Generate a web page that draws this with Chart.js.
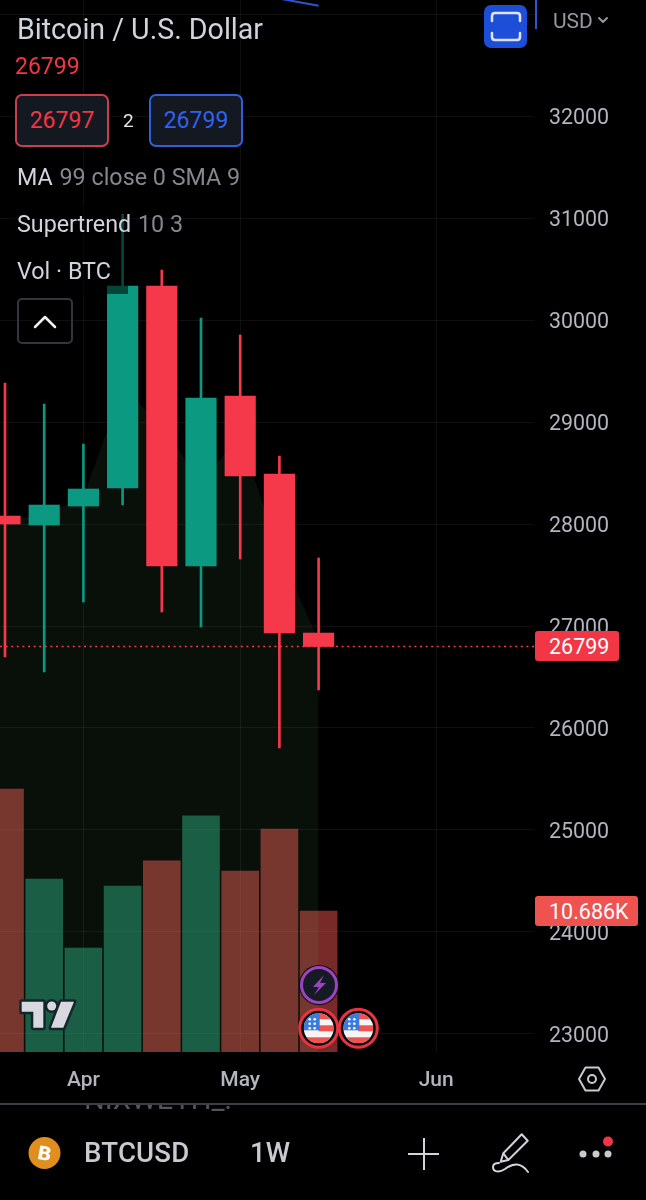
<!DOCTYPE html>
<html>
<head>
<meta charset="utf-8">
<title>BTCUSD</title>
<script src="https://cdn.jsdelivr.net/npm/chart.js@4"></script>
<style>
    html, body { margin: 0; padding: 0; background: #000; }
    body { position: relative; width: 646px; height: 1200px; overflow: hidden; font-family: Roboto, sans-serif; }
    #chart { position: absolute; left: 0; top: 0; }
    #icons { position: absolute; left: 0; top: 0; }
    .t { position: absolute; white-space: nowrap; line-height: 1; transform: translateY(-50%); }
    .box { position: absolute; box-sizing: border-box; background: #141821; border-radius: 7px; width: 94px; height: 53px; top: 94px;
           font-size: 23px; line-height: 49px; text-align: center; border: 2px solid; }
    .badge { position: absolute; left: 535px; box-sizing: border-box; color: #fff; border-radius: 3px; height: 30px;
             font-size: 21.5px; line-height: 31px; padding-left: 14px; }
    .clip { position: absolute; left: 84px; overflow: hidden; width: 200px; color: #54565c; font-size: 29px; line-height: 32px; }
</style>
</head>
<body>
<canvas id="chart" width="646" height="1200"></canvas>

<div style="position:absolute;left:10px;top:205px;width:118px;height:89px;background:rgba(0,0,0,.55)"></div>
<div style="position:absolute;left:535px;top:0;width:2px;height:29px;background:#2b55d5"></div>

<div class="t" style="left:17px;top:29px;font-size:28.6px;color:#d1d4dc">Bitcoin / U.S. Dollar</div>
<div class="t" style="left:15px;top:66px;font-size:23px;color:#f23645">26799</div>
<div class="box" style="left:15px;border-color:#c9404c;color:#f23645">26797</div>
<div class="t" style="left:123px;top:120px;font-size:19px;color:#e6e6e6">2</div>
<div class="box" style="left:149px;border-color:#2f5fdc;color:#2f62f0">26799</div>
<div class="t" style="left:17px;top:178px;font-size:23.3px;color:#d1d4dc">MA <span style="color:#84878f;margin-left:1px">99 close 0 SMA 9</span></div>
<div class="t" style="left:17px;top:225px;font-size:23.3px;color:#d1d4dc">Supertrend <span style="color:#84878f;margin-left:1px">10 3</span></div>
<div class="t" style="left:17px;top:272px;font-size:23.3px;color:#d1d4dc">Vol · BTC</div>
<div style="position:absolute;left:17px;top:298px;width:56px;height:46px;box-sizing:border-box;border:2px solid #33363e;border-radius:5px"></div>

<div style="position:absolute;left:484px;top:5px;width:43px;height:43px;background:#1c4ed8;border-radius:7px"></div>
<div class="t" style="left:553px;top:21px;font-size:21px;color:#9598a1">USD</div>

<div class="badge" style="top:631px;width:84px;background:#f23645">26799</div>
<div class="badge" style="top:896px;width:103px;background:#ef5350">10.686K</div>

<div style="position:absolute;left:0;top:1103px;width:646px;height:2px;background:#3b3e47"></div>
<div class="clip" style="top:1105px;height:9px"><div style="margin-top:-22px">NIXWETH_:</div></div>
<div class="clip" style="top:1193px;height:7px"><div style="margin-top:3px">TOTAL</div></div>
<div class="t" style="left:84px;top:1153px;font-size:27.6px;font-weight:500;color:#c8cad0;letter-spacing:.2px">BTCUSD</div>
<div class="t" style="left:250px;top:1153px;font-size:27.6px;font-weight:500;color:#c8cad0">1W</div>

<svg id="icons" width="646" height="1200" viewBox="0 0 646 1200" fill="none">
    <defs>
        <clipPath id="flagA"><circle cx="318.7" cy="1028.3" r="15"/></clipPath>
        <clipPath id="flagB"><circle cx="358.3" cy="1028.3" r="15"/></clipPath>
        <g id="flag">
            <rect x="-15" y="-15" width="30" height="30" fill="#f5f5f5"/>
            <rect x="-15" y="-15" width="30" height="6" fill="#ee5350"/>
            <rect x="0" y="-3" width="15" height="6" fill="#ee5350"/>
            <rect x="-15" y="9" width="30" height="6" fill="#ee5350"/>
            <rect x="-15" y="-15" width="16" height="17" fill="#3a7be0"/>
            <g fill="#fff">
                <circle cx="-9" cy="-9" r="1.3"/><circle cx="-4" cy="-9" r="1.3"/><circle cx="-9" cy="-4.5" r="1.3"/>
                <circle cx="-4" cy="-4.5" r="1.3"/><circle cx="-9" cy="0" r="1.3"/><circle cx="-4" cy="0" r="1.3"/>
            </g>
        </g>
    </defs>

    <path d="M35 327 L45 317 L55 327" stroke="#f0f0f0" stroke-width="2.5" stroke-linecap="round" stroke-linejoin="round"/>

    <g stroke="#dfe5f7" stroke-width="2.5" stroke-linecap="round">
        <path d="M492 21 V16 Q492 13 495 13 H517 Q520 13 520 16 V21"/>
        <path d="M492 33 V37 Q492 40 495 40 H517 Q520 40 520 37 V33"/>
    </g>
    <path d="M599 18 L603 22 L607 18" stroke="#9598a1" stroke-width="2" stroke-linecap="round" stroke-linejoin="round"/>

    <g stroke="#13272b" stroke-width="5" stroke-linejoin="round" fill="#13272b">
        <path d="M21.7 1001.7 H43.3 V1027.7 H33.3 V1011.7 H21.7 Z"/>
        <path d="M61 1001.7 H74 L63.3 1027.7 H51 Z"/>
        <circle cx="51.7" cy="1006" r="4.5"/>
    </g>
    <g fill="#d8d9e0">
        <path d="M21.7 1001.7 H43.3 V1027.7 H33.3 V1011.7 H21.7 Z"/>
        <path d="M61 1001.7 H74 L63.3 1027.7 H51 Z"/>
        <circle cx="51.7" cy="1006" r="4.5"/>
    </g>

    <circle cx="319" cy="985" r="20" fill="#0b0c10"/>
    <circle cx="319" cy="985" r="17.5" fill="#161a25" stroke="#9c44bd" stroke-width="3"/>
    <path d="M324 975 L313 987 H319 L314 995 L326 983 H320 Z" fill="#9c44bd"/>

    <circle cx="318.7" cy="1028.3" r="19" fill="#0b0c10" stroke="#ea3340" stroke-width="3"/>
    <g clip-path="url(#flagA)"><use href="#flag" x="318.7" y="1028.3"/></g>
    <circle cx="358.3" cy="1028.3" r="19" fill="#0b0c10" stroke="#ea3340" stroke-width="3"/>
    <g clip-path="url(#flagB)"><use href="#flag" x="358.3" y="1028.3"/></g>

    <polygon points="579,1079 585.5,1067.5 598.5,1067.5 605,1079 598.5,1090.5 585.5,1090.5" stroke="#c8cad0" stroke-width="2" stroke-linejoin="round"/>
    <circle cx="592" cy="1079" r="4" stroke="#c8cad0" stroke-width="2"/>

    <circle cx="44.5" cy="1153" r="16" fill="#e08e1e"/>
    <text x="44.5" y="1160" font-family="DejaVu Sans" font-size="19" font-weight="700" fill="#fff" text-anchor="middle" transform="rotate(10 44.5 1153)">B</text>

    <path d="M408 1154 H439 M424 1138 V1170" stroke="#d1d4dc" stroke-width="2"/>
    <path d="M500.7 1161.7 L503.3 1153.3 L521.7 1134.3 L527.7 1140.7 L508.3 1160 Z M503.3 1153.3 L508.3 1160" stroke="#d1d4dc" stroke-width="2" stroke-linejoin="round"/>
    <path d="M528 1172 C521 1162 513 1163 505 1169 C499 1173 493 1172 493 1167 C493 1164 496 1163 499 1163" stroke="#d1d4dc" stroke-width="2" stroke-linecap="round"/>
    <g fill="#c8cad0"><circle cx="583" cy="1154" r="3.5"/><circle cx="596" cy="1154" r="3.5"/><circle cx="608" cy="1154" r="3.5"/></g>
    <circle cx="608" cy="1141.5" r="5" fill="#f23645"/>
</svg>

<script>
// Bougies hebdomadaires
const weeks = [0, 1, 2, 3, 4, 5, 6, 7, 8];
const opens = [28078, 27990, 28176, 28353, 30333, 27588, 29255, 28490, 26931];
const closes = [28000, 28186, 28343, 30333, 27588, 29235, 28471, 26931, 26799];
const highs = [29382, 29176, 28784, 31039, 30490, 30020, 29853, 28667, 27667];
const lows = [26696, 26549, 27235, 28186, 27137, 26990, 27657, 25804, 26373];
const volumes = [19.93, 13.11, 7.88, 12.58, 14.48, 17.89, 13.72, 16.9, 10.686];

// Bande Supertrend
const bandWeeks = [-1, 0, 1, 2, 3, 4, 5, 6, 7, 8];
const bandValues = [28050, 28039, 28088, 28265, 29343, 28961, 28412, 28863, 27716, 26863];

// Moyenne mobile (seul le bout du tracé passe dans le cadre)
const maWeeks = [7, 8];
const maValues = [33151, 33081];

const lastPrice = 26799;
const priceTicks = [23000, 24000, 25000, 26000, 27000, 28000, 29000, 30000, 31000, 32000, 33000];
const monthWeeks = [2, 6, 11];
const monthLabels = ['Apr', 'May', 'Jun'];

const X_MIN = -0.1276;
const X_MAX = 13.495;
const GREEN = '#0b9981';
const RED = '#f6384b';
const GRID = 'rgba(255, 255, 255, 0.06)';
const TICK_COLOR = '#b2b5be';

function candleColors() {
    return weeks.map((w, i) => closes[i] >= opens[i] ? GREEN : RED);
}

function volumeColors() {
    return weeks.map((w, i) => closes[i] >= opens[i] ? 'rgba(38, 170, 130, 0.5)' : 'rgba(239, 83, 80, 0.5)');
}

new Chart(document.getElementById('chart').getContext('2d'), {
    data: {
        datasets: [
            {
                type: 'bar',
                order: 5,
                yAxisID: 'volume',
                grouped: false,
                barThickness: 37,
                backgroundColor: volumeColors(),
                data: weeks.map((w, i) => ({ x: w, y: volumes[i] }))
            },
            {
                type: 'line',
                order: 4,
                yAxisID: 'y',
                borderWidth: 0,
                pointRadius: 0,
                fill: 'start',
                backgroundColor: 'rgba(120, 210, 130, 0.08)',
                data: bandWeeks.map((w, i) => ({ x: w, y: bandValues[i] }))
            },
            {
                type: 'line',
                order: 3,
                yAxisID: 'y',
                borderColor: '#2b55d5',
                borderWidth: 2,
                pointRadius: 0,
                data: maWeeks.map((w, i) => ({ x: w, y: maValues[i] }))
            },
            {
                type: 'line',
                order: 2,
                yAxisID: 'y',
                borderColor: '#f6384b',
                borderWidth: 1.5,
                borderDash: [2, 3.6],
                pointRadius: 0,
                data: [{ x: X_MIN, y: lastPrice }, { x: X_MAX, y: lastPrice }]
            },
            {
                type: 'bar',
                order: 1,
                yAxisID: 'y',
                grouped: false,
                barThickness: 2,
                backgroundColor: candleColors(),
                data: weeks.map((w, i) => ({ x: w, y: [lows[i], highs[i]] }))
            },
            {
                type: 'bar',
                order: 0,
                yAxisID: 'y',
                grouped: false,
                barThickness: 30.5,
                backgroundColor: candleColors(),
                data: weeks.map((w, i) => ({ x: w, y: [opens[i], closes[i]] }))
            }
        ]
    },
    options: {
        responsive: false,
        animation: false,
        layout: { padding: 0, autoPadding: false },
        plugins: { legend: { display: false }, tooltip: { enabled: false } },
        scales: {
            x: {
                type: 'linear',
                offset: false,
                min: X_MIN,
                max: X_MAX,
                grid: { color: GRID, offset: false, drawTicks: false },
                border: { display: false },
                afterBuildTicks: scale => { scale.ticks = monthWeeks.map(v => ({ value: v })); },
                afterFit: scale => { scale.height = 148; scale.paddingLeft = 0; scale.paddingRight = 0; },
                ticks: {
                    autoSkip: false,
                    maxRotation: 0,
                    padding: 16,
                    color: TICK_COLOR,
                    font: { family: 'Roboto', size: 21, weight: '500' },
                    callback: value => monthLabels[monthWeeks.indexOf(value)]
                }
            },
            y: {
                type: 'linear',
                position: 'right',
                min: 22823.5,
                max: 33137.3,
                grid: { color: GRID, drawTicks: false },
                border: { display: false },
                afterBuildTicks: scale => { scale.ticks = priceTicks.map(v => ({ value: v })); },
                afterFit: scale => { scale.width = 112; scale.paddingTop = 0; scale.paddingBottom = 0; },
                ticks: {
                    autoSkip: false,
                    padding: 15,
                    labelOffset: 3,
                    color: TICK_COLOR,
                    font: { family: 'Roboto', size: 21.4 },
                    callback: value => value === 33000 ? '' : String(value)
                }
            },
            volume: {
                type: 'linear',
                display: false,
                min: 0,
                max: 79.73
            }
        }
    }
});
</script>
</body>
</html>
